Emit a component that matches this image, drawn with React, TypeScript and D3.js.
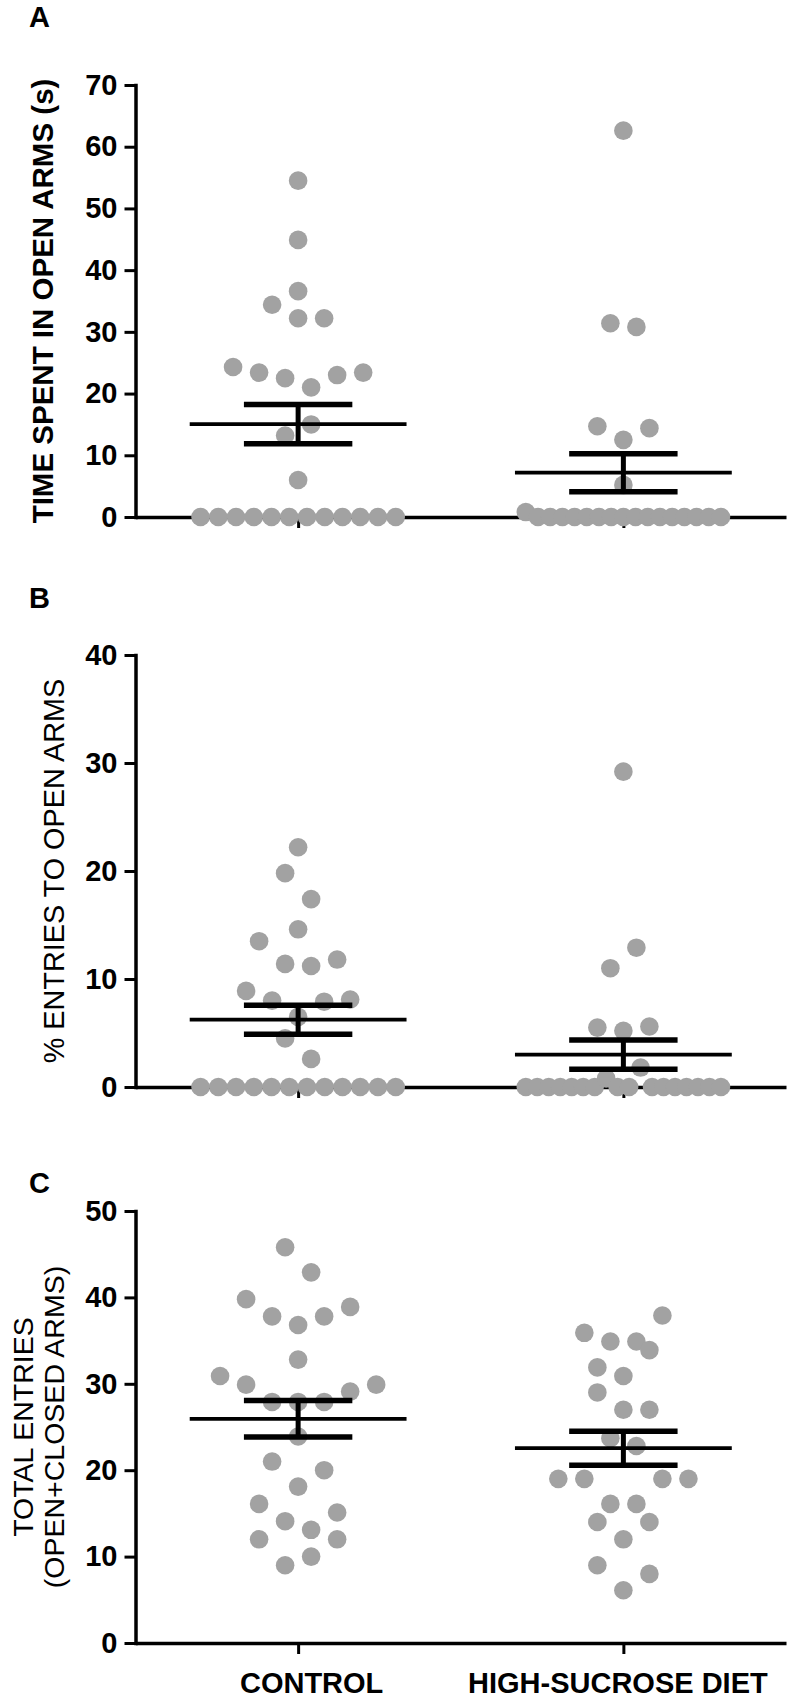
import React, { useEffect, useRef } from "react";
import * as d3 from "d3";

// groups along the x axis
const groups = ["CONTROL", "HIGH-SUCROSE DIET"];

// values are listed row by row from the top, left to right inside a row
// A: time spent in open arms (s)
const timeControl = [
  54.5, 44.9, 36.6, 34.4, 32.2, 32.2, 24.3, 23.4, 22.5, 21.0, 23.0, 23.4, 13.2,
  15.0, 6.0, 0, 0, 0, 0, 0, 0, 0, 0, 0, 0, 0, 0,
];
const timeSucrose = [
  62.6, 31.4, 30.8, 14.7, 12.5, 14.4, 5.2, 0.8, 0, 0, 0, 0, 0, 0, 0, 0, 0, 0, 0,
  0, 0, 0, 0, 0,
];

// B: % entries to open arms
const pctControl = [
  22.2, 19.8, 17.4, 14.6, 13.5, 11.4, 11.2, 11.8, 8.9, 8.0, 6.5, 7.9, 8.1, 4.5,
  2.6, 0, 0, 0, 0, 0, 0, 0, 0, 0, 0, 0, 0,
];
const pctSucrose = [
  29.2, 11.0, 12.9, 5.5, 5.2, 5.6, 0, 0, 0, 0, 0, 0, 0, 0.8, 0, 0, 1.8, 0, 0, 0,
  0, 0, 0, 0,
];

// C: total entries (open + closed arms)
const totalControl = [
  45.8, 42.9, 39.8, 37.8, 36.8, 37.8, 38.9, 32.8, 30.9, 29.9, 27.9, 27.9, 27.9,
  29.1, 29.9, 23.9, 21.0, 18.1, 20.0, 16.1, 14.1, 13.1, 15.1, 12.0, 9.0, 10.0,
  12.0,
];
const totalSucrose = [
  35.9, 34.9, 34.9, 37.9, 31.9, 30.9, 33.9, 29.0, 27.0, 27.0, 23.7, 22.8, 19.0,
  19.0, 16.1, 16.1, 19.0, 19.0, 14.0, 12.0, 14.0, 9.0, 6.1, 8.0,
];

const panelLetters = ["A", "B", "C"];
const yTitles = [
  ["TIME SPENT IN OPEN ARMS (s)"],
  ["% ENTRIES TO OPEN ARMS"],
  ["TOTAL ENTRIES", "(OPEN+CLOSED ARMS)"],
];
const yMaxima = [70, 40, 50];
const yTickValues = [
  [0, 10, 20, 30, 40, 50, 60, 70],
  [0, 10, 20, 30, 40],
  [0, 10, 20, 30, 40, 50],
];
const panelSeries = [
  [timeControl, timeSucrose],
  [pctControl, pctSucrose],
  [totalControl, totalSucrose],
];

const FONT = "'Liberation Sans', Arial, sans-serif";
const DOT = "#a2a2a2";

// prism style column scatter: sorted values are split into rows,
// every row is centred on the column and keeps the input order
function rowOffsets(values, y, step, maxSpan, rowGap) {
  const order = d3
    .range(values.length)
    .sort((a, b) => values[a] - values[b] || a - b);
  const rows = [];
  let cur = null;
  order.forEach((i) => {
    if (!cur || y(cur.start) - y(values[i]) > rowGap) {
      cur = { start: values[i], items: [] };
      rows.push(cur);
    }
    cur.items.push(i);
  });
  const dx = values.map(() => 0);
  rows.forEach((r) => {
    const items = r.items.slice().sort((a, b) => a - b);
    const n = items.length;
    const s = n > 1 ? Math.min(step, maxSpan / (n - 1)) : 0;
    items.forEach((idx, j) => {
      dx[idx] = (j - (n - 1) / 2) * s;
    });
  });
  return dx;
}

const App = () => {
  const ref = useRef(null);

  useEffect(() => {
    const svg = d3.select(ref.current);
    svg.selectAll("*").remove();

    const left = 135.5;
    const right = 786;
    const plotH = 432;
    const tops = [85, 655, 1211];
    const letterY = [27, 608, 1193];
    const titleX = [[53], [64], [33, 64]];
    const titleSize = [29.5, 28.8, 28.5];

    const x = d3.scalePoint().domain(groups).range([left, right]).padding(0.5);
    const step = x.step();

    tops.forEach((top, p) => {
      const y = d3
        .scaleLinear()
        .domain([0, yMaxima[p]])
        .range([top + plotH, top]);
      const g = svg.append("g");

      // panel letter
      g.append("text")
        .attr("x", 29)
        .attr("y", letterY[p])
        .attr("font-family", FONT)
        .attr("font-weight", "bold")
        .attr("font-size", 29)
        .text(panelLetters[p]);

      // y title
      const mid = (y(0) + y(yMaxima[p])) / 2;
      yTitles[p].forEach((line, k) => {
        g.append("text")
          .attr("transform", `translate(${titleX[p][k]},${mid}) rotate(-90)`)
          .attr("text-anchor", "middle")
          .attr("font-family", FONT)
          .attr("font-weight", p === 0 ? "bold" : "normal")
          .attr("font-size", titleSize[p])
          .text(line);
      });

      // x axis
      const xAxis = g
        .append("g")
        .attr("transform", `translate(0,${y(0)})`)
        .call(
          d3
            .axisBottom(x)
            .tickSize(11)
            .tickSizeOuter(0)
            .tickPadding(18)
            .tickFormat(p === 2 ? (d) => d : () => "")
        );
      xAxis.select(".domain").attr("stroke-width", 3.5);
      xAxis.selectAll(".tick line").attr("stroke-width", 3);
      xAxis
        .selectAll(".tick text")
        .attr("font-family", FONT)
        .attr("font-weight", "bold")
        .attr("font-size", 29)
        .attr("fill", "#000")
        .attr("dx", (d, i) => (i === 0 ? 13 : -6));

      // y axis
      const yAxis = g
        .append("g")
        .attr("transform", `translate(${left},0)`)
        .call(
          d3
            .axisLeft(y)
            .tickValues(yTickValues[p])
            .tickSize(11)
            .tickSizeOuter(0)
            .tickPadding(7)
        );
      yAxis
        .select(".domain")
        .attr("stroke-width", 3.5)
        .attr("stroke-linecap", "square");
      yAxis.selectAll(".tick line").attr("stroke-width", 3);
      yAxis
        .selectAll(".tick text")
        .attr("font-family", FONT)
        .attr("font-weight", "bold")
        .attr("font-size", 29)
        .attr("fill", "#000");

      // dots and mean +/- SEM
      panelSeries[p].forEach((values, gi) => {
        const cx = x(groups[gi]);
        const dx = rowOffsets(values, y, step * 0.08, step * 0.6, 26.3);

        g.append("g")
          .selectAll("circle")
          .data(values)
          .enter()
          .append("circle")
          .attr("cx", (d, i) => cx + dx[i])
          .attr("cy", (d) => y(d))
          .attr("r", 9.3)
          .attr("fill", DOT);

        const mean = d3.mean(values);
        const sem = d3.deviation(values) / Math.sqrt(values.length);
        const bars = g.append("g").attr("stroke", "#000");
        bars
          .append("line")
          .attr("x1", cx - step / 3)
          .attr("x2", cx + step / 3)
          .attr("y1", y(mean))
          .attr("y2", y(mean))
          .attr("stroke-width", 3.8);
        bars
          .append("line")
          .attr("x1", cx)
          .attr("x2", cx)
          .attr("y1", y(mean - sem))
          .attr("y2", y(mean + sem))
          .attr("stroke-width", 5);
        [mean - sem, mean + sem].forEach((v) => {
          bars
            .append("line")
            .attr("x1", cx - step / 6)
            .attr("x2", cx + step / 6)
            .attr("y1", y(v))
            .attr("y2", y(v))
            .attr("stroke-width", 5.5);
        });
      });
    });

    return () => {
      svg.selectAll("*").remove();
    };
  }, []);

  return (
    <svg
      ref={ref}
      width={795}
      height={1699}
      style={{ position: "absolute", left: 0, top: 0, background: "#fff" }}
    ></svg>
  );
};

export default App;
